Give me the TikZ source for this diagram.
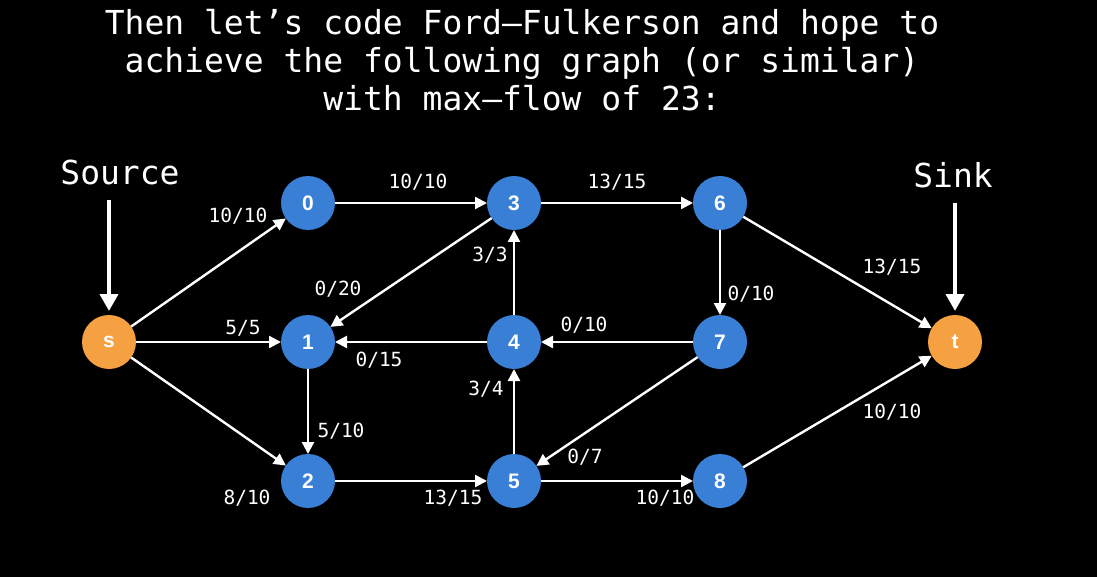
\documentclass[tikz,border=0pt]{standalone}
\usepackage{fontspec}
\setmonofont{DejaVu Sans Mono}
\newfontfamily\nodefont{Liberation Sans}
\usetikzlibrary{arrows.meta}
\definecolor{nodeblue}{HTML}{3A7FD6}
\definecolor{nodeorange}{HTML}{F5A142}
\tikzset{
  vtx/.style={circle, fill=nodeblue, minimum size=54pt, inner sep=0pt, outer sep=0pt, text=white, font=\nodefont\bfseries\fontsize{21}{21}\selectfont},
  term/.style={vtx, fill=nodeorange},
  edge/.style={draw=white, line width=2.4pt, -{Triangle[length=12pt,width=12pt]}},
  pointer/.style={draw=white, line width=4pt, -{Triangle[length=17pt,width=18pt]}, shorten >=4pt},
  lbl/.style={text=white, inner sep=0pt, font=\ttfamily\fontsize{19.5}{19.5}\selectfont},
  big/.style={text=white, inner sep=0pt, font=\ttfamily\fontsize{33}{38}\selectfont}
}
\begin{document}
\begin{tikzpicture}[x=1pt,y=-1pt]
\fill[black] (0,0) rectangle (1097,577);
\useasboundingbox (0,0) rectangle (1097,577);

\node[big, align=center] (title) at (522,60) {Then let’s code Ford–Fulkerson and hope to\\achieve the following graph (or similar)\\with max–flow of 23:};

\node[term] (s) at (109,342) {s};
\node[term] (t) at (955,342) {t};
\node[vtx] (n0) at (308,203) {0};
\node[vtx] (n3) at (514,203) {3};
\node[vtx] (n6) at (720,203) {6};
\node[vtx] (n1) at (308,342) {1};
\node[vtx] (n4) at (514,342) {4};
\node[vtx] (n7) at (720,342) {7};
\node[vtx] (n2) at (308,481) {2};
\node[vtx] (n5) at (514,481) {5};
\node[vtx] (n8) at (720,481) {8};

\node[big] (srclbl) at (120,172) {Source};
\node[big] (sinklbl) at (953,175) {Sink};
\coordinate (srctop) at (109,200);
\coordinate (sinktop) at (955,203);
\draw[pointer] (srctop) -- (s);
\draw[pointer] (sinktop) -- (t);

\draw[edge] (s) -- (n0);
\draw[edge] (s) -- (n1);
\draw[edge] (s) -- (n2);
\draw[edge] (n0) -- (n3);
\draw[edge] (n3) -- (n6);
\draw[edge] (n3) -- (n1);
\draw[edge] (n4) -- (n3);
\draw[edge] (n4) -- (n1);
\draw[edge] (n7) -- (n4);
\draw[edge] (n1) -- (n2);
\draw[edge] (n2) -- (n5);
\draw[edge] (n5) -- (n4);
\draw[edge] (n5) -- (n8);
\draw[edge] (n7) -- (n5);
\draw[edge] (n6) -- (n7);
\draw[edge] (n6) -- (t);
\draw[edge] (n8) -- (t);

\node[lbl] (l1) at (238,216) {10/10};
\node[lbl] (l2) at (418,182) {10/10};
\node[lbl] (l3) at (617,182) {13/15};
\node[lbl] (l4) at (892,267) {13/15};
\node[lbl] (l5) at (338,289) {0/20};
\node[lbl] (l6) at (490,255) {3/3};
\node[lbl] (l7) at (243,328) {5/5};
\node[lbl] (l8) at (584,325) {0/10};
\node[lbl] (l9) at (379,360) {0/15};
\node[lbl] (l10) at (751,294) {0/10};
\node[lbl] (l11) at (486,389) {3/4};
\node[lbl] (l12) at (341,431) {5/10};
\node[lbl] (l13) at (585,457) {0/7};
\node[lbl] (l14) at (892,412) {10/10};
\node[lbl] (l15) at (247,498) {8/10};
\node[lbl] (l16) at (453,498) {13/15};
\node[lbl] (l17) at (665,498) {10/10};
\end{tikzpicture}
\end{document}
